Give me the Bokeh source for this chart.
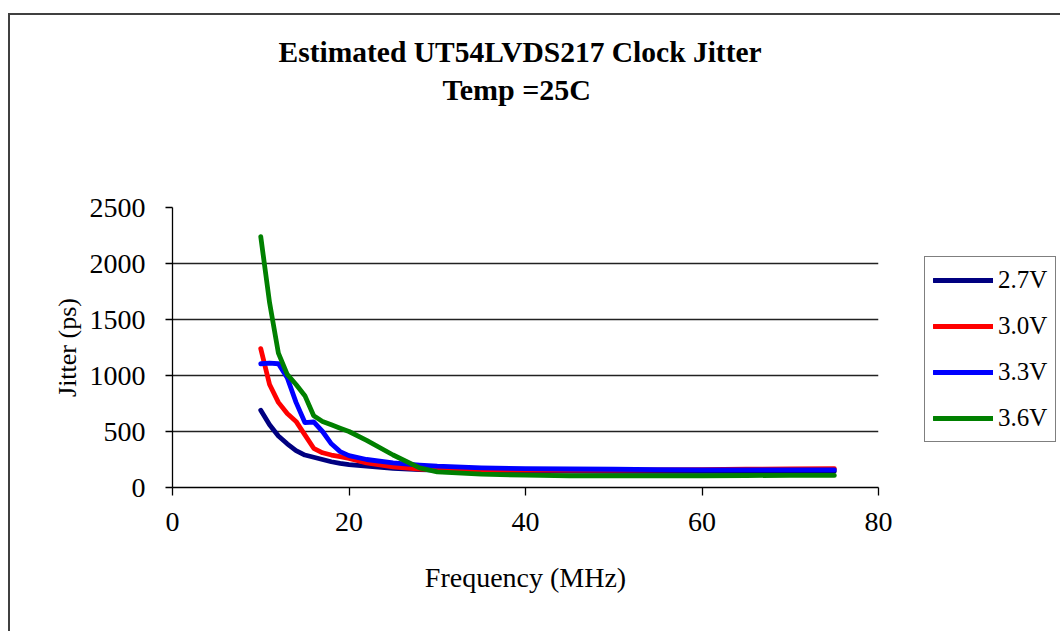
from bokeh.plotting import figure
from bokeh.models import Range1d, FixedTicker, Legend, LegendItem, Title
from bokeh.embed import file_html
from bokeh.resources import INLINE

freq = [10, 11, 12, 13, 14, 15, 16, 17, 18, 19, 20, 22, 25, 28, 30, 35, 40, 45, 50, 55, 60, 65, 70, 75]
j27 = [690, 560, 460, 390, 330, 290, 270, 250, 230, 215, 205, 190, 172, 160, 155, 150, 148, 146, 145, 145, 145, 145, 145, 145]
j30 = [1240, 920, 760, 660, 590, 470, 350, 310, 290, 275, 260, 220, 185, 165, 158, 155, 155, 155, 155, 157, 160, 163, 165, 168]
j33 = [1105, 1110, 1105, 980, 760, 580, 585, 500, 390, 320, 285, 250, 220, 200, 190, 175, 168, 165, 163, 160, 158, 158, 158, 158]
j36 = [2240, 1650, 1200, 1010, 920, 820, 640, 590, 560, 530, 500, 420, 290, 175, 140, 120, 110, 105, 105, 105, 105, 107, 108, 108]
series_names = ["2.7V", "3.0V", "3.3V", "3.6V"]
series_colors = ["#000080", "#ff0000", "#0000ff", "#008000"]
x_ticks = [0, 20, 40, 60, 80]
y_ticks = [0, 500, 1000, 1500, 2000, 2500]

FONT = "Liberation Serif"

p = figure(width=1050, height=616, frame_width=706, frame_height=280,
           output_backend="svg", toolbar_location=None,
           x_range=Range1d(0, 80), y_range=Range1d(0, 2500),
           min_border_left=162, min_border_right=182, min_border_top=192, min_border_bottom=144)
p.margin = (13, 0, 0, 8)
p.styles = {"border-top": "2px solid #404040", "border-left": "2px solid #404040"}
p.outline_line_color = None
p.background_fill_color = "white"
p.border_fill_color = "white"

# invisible spacer between the title block and the plot frame
spacer = Title(text=" ", text_font=FONT, text_font_size="10px", text_color="white",
               align="left", standoff=89)
sub = Title(text="Temp =25C", text_font=FONT, text_font_size="30px", text_font_style="bold",
            text_color="black", align="left", standoff=0, offset=270)
main = Title(text="Estimated UT54LVDS217 Clock Jitter", text_font=FONT, text_font_size="29.5px",
             text_font_style="bold", text_color="black", align="left", standoff=6, offset=106)
p.add_layout(spacer, "above")
p.add_layout(sub, "above")
p.add_layout(main, "above")

renderers = []
for ys, c in zip([j27, j30, j33, j36], series_colors):
    r = p.line(freq, ys, line_color=c, line_width=4.8, line_cap="round", line_join="round")
    renderers.append(r)

p.xaxis.ticker = FixedTicker(ticks=x_ticks)
p.yaxis.ticker = FixedTicker(ticks=y_ticks)
for ax in (p.xaxis[0], p.yaxis[0]):
    ax.axis_line_color = "black"
    ax.axis_line_width = 1.3
    ax.major_tick_line_color = "black"
    ax.major_tick_line_width = 1.3
    ax.major_tick_in = 0
    ax.minor_tick_line_color = None
    ax.major_label_text_font = FONT
    ax.major_label_text_font_size = "28px"
    ax.major_label_text_color = "black"
    ax.axis_label_text_font = FONT
    ax.axis_label_text_font_style = "normal"
    ax.axis_label_text_color = "black"
p.xaxis.major_tick_out = 8
p.yaxis.major_tick_out = 7
p.xaxis.major_label_standoff = 17
p.yaxis.major_label_standoff = 20
p.xaxis.axis_label = "Frequency (MHz)"
p.yaxis.axis_label = "Jitter (ps)"
p.xaxis.axis_label_text_font_size = "28px"
p.yaxis.axis_label_text_font_size = "26px"
p.xaxis.axis_label_standoff = 28
p.yaxis.axis_label_standoff = 5

p.xgrid.grid_line_color = None
p.ygrid.grid_line_color = "#222222"
p.ygrid.grid_line_width = 1.3

legend = Legend(items=[LegendItem(label=n, renderers=[r]) for n, r in zip(series_names, renderers)],
                location=(46, 45), glyph_width=60, glyph_height=30, label_height=30,
                label_text_font=FONT, label_text_font_size="25px", label_text_color="black",
                label_standoff=5, padding=8, spacing=16, margin=0,
                border_line_color="black", border_line_width=1.5,
                background_fill_color="white", background_fill_alpha=1)
p.add_layout(legend, "right")

open("out.html", "w").write(file_html(p, INLINE))
